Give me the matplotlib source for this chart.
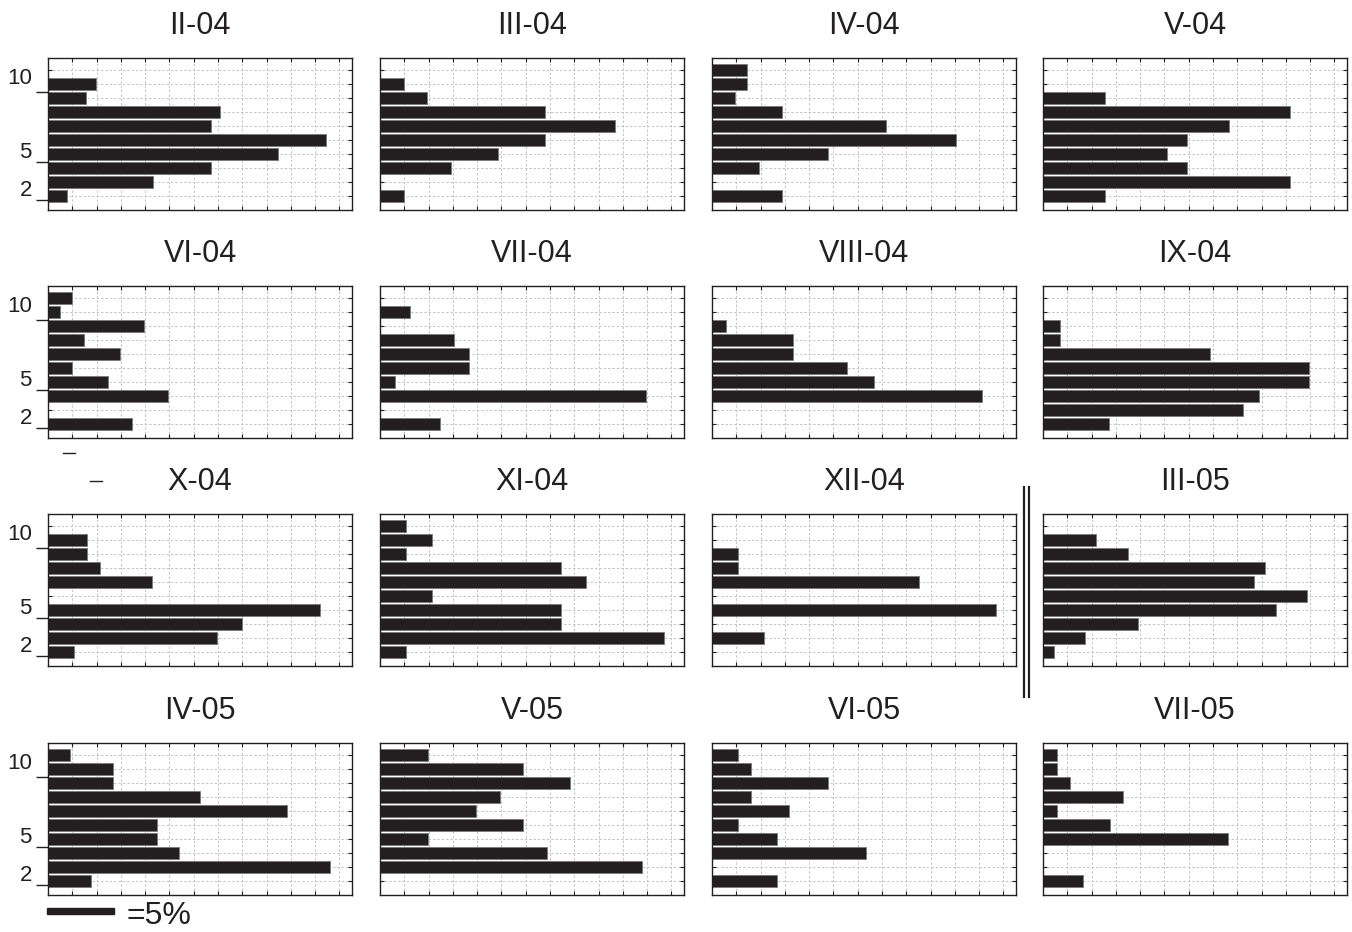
import matplotlib
matplotlib.use("Agg")
import matplotlib.pyplot as plt
from matplotlib.lines import Line2D
from matplotlib.patches import Rectangle
import matplotlib.transforms as mtransforms

plt.rcParams["font.family"] = ["Liberation Sans", "DejaVu Sans"]

INK = "#231f20"

# bar lengths in grid divisions (one division ~ 1.8 %), rows 1..10 from the bottom
ii_04 = [0.80, 4.33, 6.71, 9.46, 11.44, 6.71, 7.09, 1.58, 1.98, 0]
iii_04 = [0.99, 0, 2.91, 4.84, 6.78, 9.66, 6.78, 1.95, 0.99, 0]
iv_04 = [2.88, 0, 1.92, 4.77, 10.03, 7.16, 2.88, 0.96, 1.44, 1.44]
v_04 = [2.55, 10.18, 5.94, 5.09, 5.94, 7.64, 10.18, 2.55, 0, 0]
vi_04 = [3.46, 0, 4.95, 2.46, 0.99, 2.95, 1.48, 3.96, 0.49, 0.99]
vii_04 = [2.47, 0, 10.97, 0.63, 3.67, 3.67, 3.06, 0, 1.24, 0]
viii_04 = [0, 0, 11.10, 6.69, 5.57, 3.34, 3.34, 0.58, 0, 0]
ix_04 = [2.73, 8.22, 8.90, 10.95, 10.95, 6.86, 0.68, 0.68, 0, 0]
x_04 = [1.07, 6.94, 8.01, 11.20, 0, 4.27, 2.13, 1.61, 1.61, 0]
xi_04 = [1.07, 11.70, 7.45, 7.45, 2.14, 8.50, 7.45, 1.07, 2.14, 1.07]
xii_04 = [0, 2.16, 0, 11.68, 0, 8.54, 1.09, 1.09, 0, 0]
iii_05 = [0.45, 1.75, 3.93, 9.58, 10.88, 8.70, 9.14, 3.49, 2.19, 0]
iv_05 = [1.79, 11.62, 5.39, 4.48, 4.48, 9.84, 6.27, 2.68, 2.68, 0.89]
v_05 = [0, 10.77, 6.87, 1.97, 5.87, 3.95, 4.93, 7.84, 5.87, 1.97]
vi_05 = [2.67, 0, 6.33, 2.67, 1.09, 3.18, 1.60, 4.76, 1.60, 1.09]
vii_05 = [1.65, 0, 0, 7.63, 2.74, 0.56, 3.28, 1.11, 0.56, 0.56]

titles = ["II-04", "III-04", "IV-04", "V-04",
          "VI-04", "VII-04", "VIII-04", "IX-04",
          "X-04", "XI-04", "XII-04", "III-05",
          "IV-05", "V-05", "VI-05", "VII-05"]
series = [ii_04, iii_04, iv_04, v_04,
          vi_04, vii_04, viii_04, ix_04,
          x_04, xi_04, xii_04, iii_05,
          iv_05, v_05, vi_05, vii_05]

rows = list(range(1, 11))
ytick_pos = [0.72, 3.42, 8.44]
ytick_lab = ["2", "5", "10"]
ylab_pos = [1.41, 4.10, 9.37]
scale_len = 2.75  # divisions that make 5 %

W, H = 1352, 932
fig = plt.figure(figsize=(W / 100, H / 100), dpi=100)

col_left = [48, 380, 712, 1043]
row_top = [58, 286, 514, 743]
aw, ah = 304, 152

axes = []
for i, (title, vals) in enumerate(zip(titles, series)):
    r, c = divmod(i, 4)
    ax = fig.add_axes([col_left[c] / W, 1 - (row_top[r] + ah) / H, aw / W, ah / H])
    axes.append(ax)
    ax.set_axisbelow(True)
    ax.barh(rows, vals, height=0.85, color=INK, edgecolor="#7a7878", linewidth=0.6)
    ax.set_xlim(0, 12.52)
    ax.set_ylim(0, 10.84)
    ax.set_xticks(range(1, 13))
    ax.set_yticks(rows)
    ax.grid(True, color="#c4c4c4", linestyle=(0, (2.5, 2)), linewidth=0.7)
    ax.tick_params(which="major", direction="in", length=3, width=0.8, color=INK,
                   top=True, bottom=True, left=True, right=True,
                   labelleft=False, labelbottom=False)
    for s in ax.spines.values():
        s.set_color(INK)
        s.set_linewidth(1.0)
    ax.set_title(title, fontsize=22, color=INK, pad=17)
    if c == 0:
        ax.set_yticks(ytick_pos, minor=True)
        ax.tick_params(axis="y", which="minor", direction="out", length=8.5,
                       width=1.0, color=INK, left=True, right=False, labelleft=False)
        tr = mtransforms.blended_transform_factory(ax.transAxes, ax.transData)
        for yp, lab in zip(ylab_pos, ytick_lab):
            ax.text(-0.053, yp, lab, transform=tr, ha="right", va="center",
                    fontsize=16, color=INK)

# scale bar under IV-05
ax = axes[12]
tr = mtransforms.blended_transform_factory(ax.transData, ax.transAxes)
ax.add_patch(Rectangle((-0.05, -0.125), scale_len, 0.038, transform=tr,
                       color=INK, clip_on=False))
ax.text(scale_len + 0.5, -0.135, "=5%", transform=tr, ha="left", va="center",
        fontsize=23, color=INK)

# double separator between XII-04 and III-05
for xp in (1024, 1028.5):
    fig.add_artist(Line2D([xp / W, xp / W], [1 - 487 / H, 1 - 697 / H],
                          color=INK, linewidth=1.6))

# stray marks left of X-04
for x0, x1, yy in ((63, 75, 453), (90, 102, 481)):
    fig.add_artist(Line2D([x0 / W, x1 / W], [1 - yy / H, 1 - yy / H],
                          color=INK, linewidth=1.0))

fig.savefig("out.png", dpi=100)
